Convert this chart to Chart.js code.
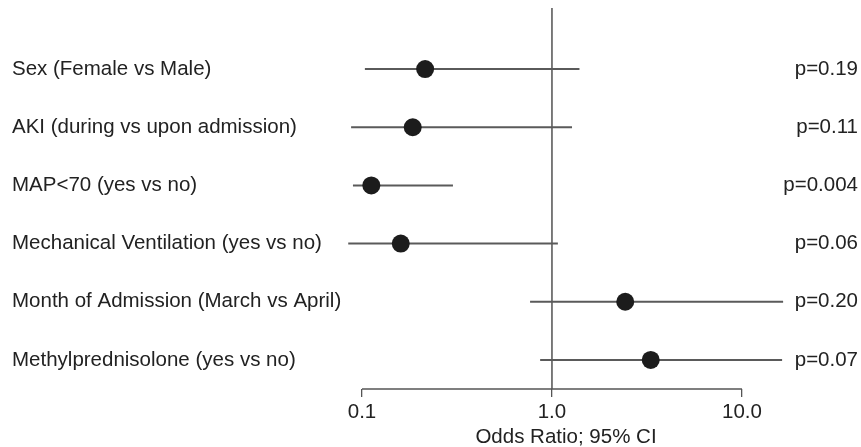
<!DOCTYPE html>
<html>
<head>
<meta charset="utf-8">
<script src="https://cdn.jsdelivr.net/npm/chart.js@4/dist/chart.umd.min.js"></script>
<style>
  html, body { margin: 0; padding: 0; background: #ffffff; }
  #wrap { width: 861px; height: 447px; position: relative; }
</style>
</head>
<body>
<div id="wrap"><canvas id="forest"></canvas></div>
<script>
// Predictors in the multivariable model
const categories = [
  'Sex (Female vs Male)',
  'AKI (during vs upon admission)',
  'MAP<70 (yes vs no)',
  'Mechanical Ventilation (yes vs no)',
  'Month of Admission (March vs April)',
  'Methylprednisolone (yes vs no)'
];
// Odds ratios with lower / upper 95% confidence limits
const oddsRatios = [0.215, 0.185, 0.112, 0.160, 2.43, 3.31];
const ciLower    = [0.104, 0.088, 0.090, 0.085, 0.77, 0.87];
const ciUpper    = [1.39,  1.27,  0.30,  1.07,  16.4, 16.2];
const pValues    = ['p=0.19', 'p=0.11', 'p=0.004', 'p=0.06', 'p=0.20', 'p=0.07'];
// Axis ticks
const tickValues = [0.1, 1, 10];
const tickLabels = ['0.1', '1.0', '10.0'];

const FONT = '"Liberation Sans", Arial, Helvetica, sans-serif';
const FONT_SIZE = 20.5;
const TEXT = '#222222';

const ciRanges = ciLower.map((lo, i) => [lo, ciUpper[i]]);

// Reference line at OR = 1, the clipped x-axis line and the p-value column
const forestDecor = {
  id: 'forestDecor',
  beforeDatasetsDraw(chart) {
    const { ctx, scales: { x } } = chart;
    const px = x.getPixelForValue(1);
    ctx.save();
    ctx.strokeStyle = '#444444';
    ctx.lineWidth = 1.4;
    ctx.beginPath();
    ctx.moveTo(px, 8);
    ctx.lineTo(px, x.top);
    ctx.stroke();
    ctx.restore();
  },
  afterDraw(chart) {
    const { ctx, scales: { x, y } } = chart;
    ctx.save();
    // x-axis line spanning first to last tick
    ctx.strokeStyle = '#555555';
    ctx.lineWidth = 1.3;
    ctx.beginPath();
    ctx.moveTo(x.getPixelForValue(tickValues[0]), x.top);
    ctx.lineTo(x.getPixelForValue(tickValues[tickValues.length - 1]), x.top);
    ctx.stroke();
    // p-values, right aligned
    ctx.fillStyle = TEXT;
    ctx.font = FONT_SIZE + 'px ' + FONT;
    ctx.textAlign = 'right';
    ctx.textBaseline = 'middle';
    pValues.forEach((p, i) => {
      ctx.fillText(p, chart.width - 3, y.getPixelForValue(i));
    });
    ctx.restore();
  }
};

new Chart(document.getElementById('forest'), {
  type: 'bar',
  data: {
    labels: categories,
    datasets: [
      {
        type: 'line',
        label: 'Odds ratio',
        data: oddsRatios,
        indexAxis: 'y',
        showLine: false,
        pointRadius: 9,
        pointHoverRadius: 9,
        pointBackgroundColor: '#1c1c1c',
        pointBorderColor: '#1c1c1c',
        pointBorderWidth: 0,
        order: 0
      },
      {
        type: 'bar',
        label: '95% CI',
        data: ciRanges,
        backgroundColor: '#5a5a5a',
        borderWidth: 0,
        barThickness: 1.3,
        order: 1
      }
    ]
  },
  options: {
    indexAxis: 'y',
    responsive: true,
    maintainAspectRatio: false,
    animation: false,
    devicePixelRatio: 1,
    layout: { padding: { top: 40, right: 71, bottom: 0, left: 12 } },
    plugins: { legend: { display: false }, tooltip: { enabled: false } },
    scales: {
      x: {
        type: 'logarithmic',
        position: 'bottom',
        min: 0.0785,
        max: 17.9,
        afterBuildTicks(scale) {
          scale.ticks = tickValues.map(v => ({ value: v }));
        },
        afterFit(scale) { scale.height = 58; },
        border: { display: false },
        grid: {
          display: true,
          drawOnChartArea: false,
          drawTicks: true,
          tickLength: 8,
          color: '#555555',
          lineWidth: 1.3
        },
        ticks: {
          autoSkip: false,
          maxRotation: 0,
          padding: 3,
          color: TEXT,
          font: { family: FONT, size: FONT_SIZE },
          callback: (value, index) => tickLabels[index]
        },
        title: {
          display: true,
          text: 'Odds Ratio; 95% CI',
          color: TEXT,
          font: { family: FONT, size: FONT_SIZE, lineHeight: 0.95 },
          padding: 0
        }
      },
      y: {
        type: 'category',
        position: 'left',
        afterFit(scale) { scale.width = 330; },
        border: { display: false },
        grid: { display: false },
        ticks: {
          crossAlign: 'far',
          color: TEXT,
          font: { family: FONT, size: FONT_SIZE }
        }
      }
    }
  },
  plugins: [forestDecor]
});
</script>
</body>
</html>
